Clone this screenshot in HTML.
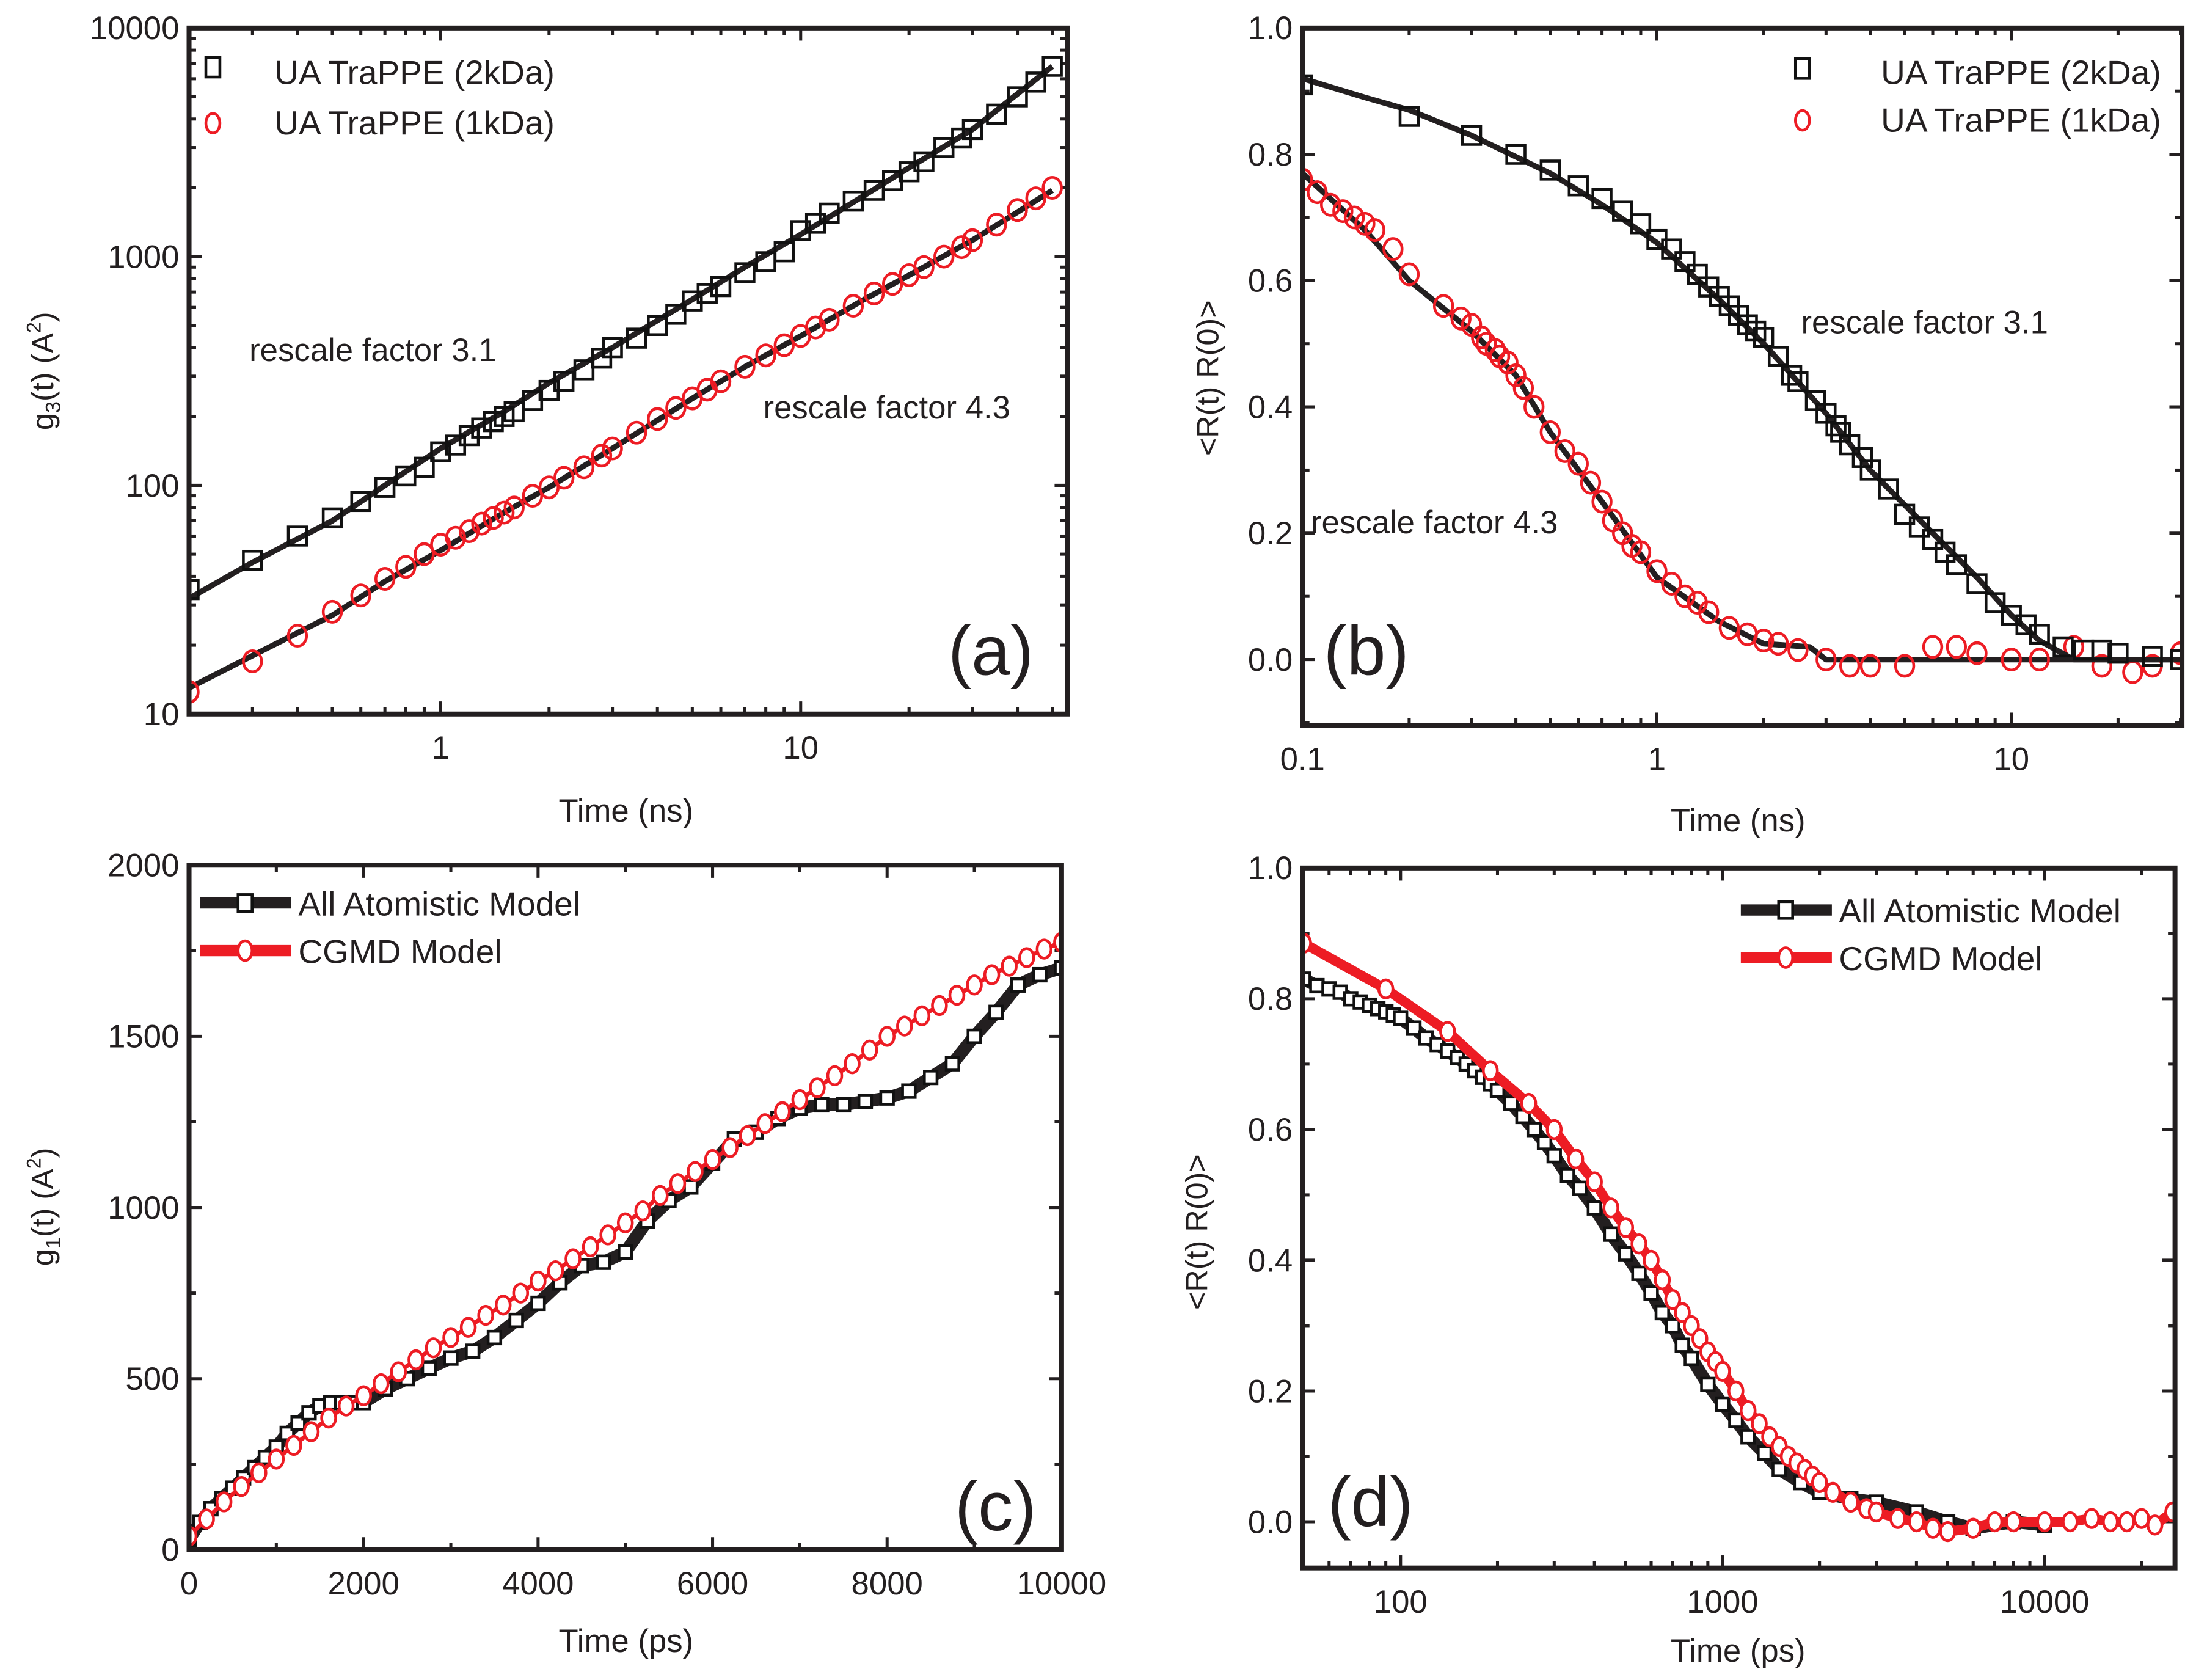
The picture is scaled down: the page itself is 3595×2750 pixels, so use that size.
<!DOCTYPE html>
<html><head><meta charset="utf-8"><style>
html,body{margin:0;padding:0;background:#fff;}
svg{display:block;font-family:"Liberation Sans",Arial,sans-serif;}
</style></head><body>
<svg id="fig" width="3595" height="2750" viewBox="0 0 1568 1200" preserveAspectRatio="none" xmlns="http://www.w3.org/2000/svg"></svg>
<script>
// ---------- Panel (a) data ----------
const aTimes2k = [0.2,0.3,0.4,0.5,0.6,0.7,0.8,0.9,1,1.1,1.2,1.3,1.4,1.5,1.6,1.8,2,2.2,2.5,2.8,3,3.5,4,4.5,5,5.5,6,7,8,9,10,11,12,14,16,18,20,22,25,28,30,35,40,45,50];
const aVals2k  = [35,47,60,72,85,98,110,120,140,150,165,178,190,200,210,235,260,285,320,360,400,440,500,560,640,690,740,850,950,1050,1300,1400,1550,1750,1950,2150,2350,2600,3000,3300,3600,4200,5000,5800,6800];
const aLine2kT = [0.2,0.3,0.5,0.7,1,1.5,2,3,5,7,10,15,20,30,50];
const aLine2kV = [32,46,70,100,145,210,280,400,650,900,1250,1850,2450,3600,6800];
const aTimes1k = [0.2,0.3,0.4,0.5,0.6,0.7,0.8,0.9,1,1.1,1.2,1.3,1.4,1.5,1.6,1.8,2,2.2,2.5,2.8,3,3.5,4,4.5,5,5.5,6,7,8,9,10,11,12,14,16,18,20,22,25,28,30,35,40,45,50];
const aVals1k  = [12.5,17,22,28,33,39,44,50,55,59,63,68,72,76,80,90,98,108,120,135,145,170,195,218,240,262,285,330,370,410,450,490,530,610,690,760,830,900,1000,1100,1180,1380,1600,1800,2000];
const aLine1kT = [0.2,0.3,0.5,0.7,1,1.5,2,3,5,7,10,15,20,30,50];
const aLine1kV = [13,18,27,38,52,76,98,145,240,330,450,650,830,1180,1950];
// ---------- Panel (b) data ----------
const bTimes2k = [0.1,0.2,0.3,0.4,0.5,0.6,0.7,0.8,0.9,1,1.1,1.2,1.3,1.4,1.5,1.6,1.7,1.8,1.9,2,2.2,2.4,2.5,2.8,3,3.2,3.3,3.5,3.8,4,4.5,5,5.5,6,6.5,7,8,9,10,11,12,14,16,18,20,25,30];
const bVals2k  = [0.91,0.86,0.83,0.80,0.775,0.75,0.73,0.71,0.69,0.665,0.65,0.63,0.61,0.59,0.575,0.56,0.545,0.53,0.52,0.51,0.48,0.45,0.44,0.41,0.39,0.37,0.36,0.34,0.32,0.30,0.27,0.23,0.21,0.19,0.17,0.15,0.12,0.09,0.07,0.055,0.04,0.02,0.015,0.015,0.01,0.005,0.0];
const bLine2kT = [0.1,0.15,0.2,0.3,0.5,0.7,1,1.5,2,3,4,6,8,10,12,15,30];
const bLine2kV = [0.92,0.89,0.87,0.83,0.77,0.72,0.66,0.57,0.50,0.39,0.30,0.20,0.13,0.07,0.03,0.0,0.0];
const bTimes1k = [0.1,0.11,0.12,0.13,0.14,0.15,0.16,0.18,0.2,0.25,0.28,0.3,0.32,0.33,0.35,0.36,0.38,0.4,0.42,0.45,0.5,0.55,0.6,0.65,0.7,0.75,0.8,0.85,0.9,1,1.1,1.2,1.3,1.4,1.6,1.8,2,2.2,2.5,3,3.5,4,5,6,7,8,10,12,15,18,22,25,30];
const bVals1k  = [0.76,0.74,0.72,0.71,0.70,0.69,0.68,0.65,0.61,0.56,0.54,0.53,0.51,0.50,0.49,0.48,0.47,0.45,0.43,0.40,0.36,0.33,0.31,0.28,0.25,0.22,0.20,0.18,0.17,0.14,0.12,0.10,0.09,0.075,0.05,0.04,0.03,0.025,0.015,0.0,-0.01,-0.01,-0.01,0.02,0.02,0.01,0.0,0.0,0.02,-0.01,-0.02,-0.01,0.01];
const bLine1kT = [0.1,0.15,0.2,0.3,0.4,0.5,0.7,1,1.5,2,2.7,3,30];
const bLine1kV = [0.77,0.68,0.60,0.52,0.45,0.36,0.25,0.13,0.06,0.025,0.02,0.0,0.0];
// ---------- Panel (c) data ----------
const cTimesAA = [0,125,250,375,500,625,750,875,1000,1125,1250,1375,1500,1625,1750,1875,2000,2250,2500,2750,3000,3250,3500,3750,4000,4250,4500,4750,5000,5250,5500,5750,6000,6250,6500,6750,7000,7250,7500,7750,8000,8250,8500,8750,9000,9250,9500,9750,10000];
const cValsAA  = [30,80,120,150,180,210,240,270,300,340,370,400,420,430,430,430,430,470,500,530,560,580,620,670,720,780,830,840,870,960,1020,1060,1130,1200,1220,1260,1290,1300,1300,1310,1320,1340,1380,1420,1500,1570,1650,1680,1700];
const cTimesCG = [0,200,400,600,800,1000,1200,1400,1600,1800,2000,2200,2400,2600,2800,3000,3200,3400,3600,3800,4000,4200,4400,4600,4800,5000,5200,5400,5600,5800,6000,6200,6400,6600,6800,7000,7200,7400,7600,7800,8000,8200,8400,8600,8800,9000,9200,9400,9600,9800,10000];
const cValsCG  = [40,90,140,185,225,265,305,345,385,420,450,485,520,555,590,620,650,685,715,750,785,815,850,885,920,955,990,1035,1070,1105,1140,1175,1210,1245,1280,1315,1350,1385,1420,1460,1500,1530,1560,1590,1620,1650,1680,1705,1730,1755,1775];
// ---------- Panel (d) data ----------
const dTimesAA = [50,55,60,65,70,75,80,85,90,95,100,110,120,130,140,150,160,170,180,190,200,220,240,260,280,300,330,360,400,450,500,550,600,650,700,750,800,900,1000,1100,1200,1350,1500,1750,2000,2500,3000,4000,5000,6000,8000,10000];
const dValsAA  = [0.83,0.82,0.815,0.81,0.80,0.795,0.79,0.785,0.78,0.775,0.77,0.755,0.74,0.73,0.72,0.71,0.70,0.69,0.68,0.67,0.66,0.64,0.62,0.60,0.58,0.56,0.53,0.51,0.48,0.44,0.41,0.38,0.35,0.32,0.30,0.27,0.25,0.21,0.18,0.155,0.13,0.105,0.08,0.06,0.045,0.035,0.03,0.015,0.0,-0.01,0.0,-0.005];
const dTimesCG = [50,90,140,190,250,300,350,400,450,500,550,600,650,700,750,800,850,900,950,1000,1100,1200,1300,1400,1500,1600,1700,1800,1900,2000,2200,2500,2800,3000,3500,4000,4500,5000,6000,7000,8000,10000,12000,14000,16000,18000,20000,22000,25000];
const dValsCG  = [0.885,0.815,0.75,0.69,0.64,0.60,0.555,0.52,0.48,0.45,0.425,0.40,0.37,0.34,0.32,0.30,0.28,0.26,0.245,0.23,0.20,0.17,0.15,0.13,0.115,0.10,0.09,0.08,0.07,0.06,0.045,0.03,0.02,0.015,0.005,0.0,-0.01,-0.015,-0.01,0.0,0.0,0.0,0.0,0.005,0.0,0.0,0.005,-0.005,0.015];

const NS="http://www.w3.org/2000/svg";
const svg=document.getElementById('fig');
function el(tag,attrs,parent){const e=document.createElementNS(NS,tag);for(const k in attrs)e.setAttribute(k,attrs[k]);(parent||svg).appendChild(e);return e;}
function mkScale(d0,d1,p0,p1,log){if(log){const a=Math.log10(d0),b=Math.log10(d1);return v=>p0+(Math.log10(v)-a)/(b-a)*(p1-p0);}return v=>p0+(v-d0)/(d1-d0)*(p1-p0);}

function panel(name,L,R,T,B,xd,yd,xlog,ylog){
  const g=el('g',{});
  
  
  return {g,L,R,T,B,sx:mkScale(xd[0],xd[1],L,R,xlog),sy:mkScale(yd[0],yd[1],B,T,ylog)};
}
function ticks(p,xMaj,xMin,yMaj,yMin,xLab,yLab){
  const g=el('g',{},p.g);
  
  
  const st={stroke:'#231f20','stroke-width':2.2};
  xMaj.forEach(v=>{const x=p.sx(v);el('line',{...st,x1:x,x2:x,y1:p.B,y2:p.B-9},g);el('line',{...st,x1:x,x2:x,y1:p.T,y2:p.T+9},g);});
  xMin.forEach(v=>{const x=p.sx(v);el('line',{...st,x1:x,x2:x,y1:p.B,y2:p.B-5},g);el('line',{...st,x1:x,x2:x,y1:p.T,y2:p.T+5},g);});
  yMaj.forEach(v=>{const y=p.sy(v);el('line',{...st,y1:y,y2:y,x1:p.L,x2:p.L+9},g);el('line',{...st,y1:y,y2:y,x1:p.R,x2:p.R-9},g);});
  yMin.forEach(v=>{const y=p.sy(v);el('line',{...st,y1:y,y2:y,x1:p.L,x2:p.L+5},g);el('line',{...st,y1:y,y2:y,x1:p.R,x2:p.R-5},g);});
  xLab.forEach((s,i)=>{const t=el('text',{x:p.sx(xMaj[i]),y:p.B+32,'font-size':23,'text-anchor':'middle',fill:'#231f20'},g);t.textContent=s;});
  yLab.forEach((s,i)=>{const t=el('text',{x:p.L-7,y:p.sy(yMaj[i])+8,'font-size':23,'text-anchor':'end',fill:'#231f20'},g);t.textContent=s;});
}
function frame(p){const r=el('rect',{x:p.L,y:p.T,width:p.R-p.L,height:p.B-p.T,fill:'none',stroke:'#231f20','stroke-width':3.5},p.g);}
function clip(p,id){const c=el('clipPath',{id},p.g);el('rect',{x:p.L,y:p.T,width:p.R-p.L,height:p.B-p.T},c);const g=el('g',{'clip-path':`url(#${id})`},p.g);return g;}
function line(p,g,xs,ys,color,w,name){const d=xs.map((x,i)=>(i?'L':'M')+p.sx(x).toFixed(1)+','+p.sy(ys[i]).toFixed(1)).join('');const e=el('path',{d,fill:'none',stroke:color,'stroke-width':w,'stroke-linejoin':'round'},g);}
function squares(p,g,xs,ys,fill,name,s){const gg=el('g',{},g);xs.forEach((x,i)=>{const r=el('rect',{x:p.sx(x)-s/2,y:p.sy(ys[i])-s/2,width:s,height:s,fill:fill,stroke:'#111','stroke-width':2},gg);});}
function circles(p,g,xs,ys,fill,name,rx,ry){const gg=el('g',{},g);xs.forEach((x,i)=>{const c=el('ellipse',{cx:p.sx(x),cy:p.sy(ys[i]),rx,ry,fill:fill,stroke:'#ed1c24','stroke-width':2},gg);});}
function text(parent,x,y,s,size,name,anchor){const t=el('text',{x,y,'font-size':size,fill:'#231f20','text-anchor':anchor||'start'},parent);t.textContent=s;return t;}
function ylabel(parent,x,y,html,name){const t=el('text',{x:0,y:0,'font-size':22,fill:'#231f20','text-anchor':'middle',transform:`translate(${x},${y}) rotate(-90)`},parent);t.innerHTML=html;}

function range(a,b,s){const r=[];for(let v=a;v<=b+1e-9;v+=s)r.push(+v.toFixed(6));return r;}
function logMinor(d0,d1){const r=[];for(let e=-2;e<=5;e++)for(let m=2;m<=9;m++){const v=m*Math.pow(10,e);if(v>=d0&&v<=d1)r.push(v);}return r;}

// ----- (a) -----
const A=panel('panel-a',135,762,20,510,[0.2,55],[10,10000],true,true);
ticks(A,[1,10],logMinor(0.2,55),[10,100,1000,10000],logMinor(10,10000),['1','10'],['10','100','1000','10000']);
let g=clip(A,'ca');
line(A,g,aLine1kT,aLine1kV,'#231f20',4,'fit-line-1kda');
circles(A,g,aTimes1k,aVals1k,'none','series-1kda',6.5,7.5);
line(A,g,aLine2kT,aLine2kV,'#231f20',4,'fit-line-2kda');
squares(A,g,aTimes2k,aVals2k,'none','series-2kda',13);
frame(A);
el('rect',{x:147,y:41,width:10,height:14,fill:'none',stroke:'#111','stroke-width':2},A.g);
el('ellipse',{cx:152,cy:88,rx:5,ry:7,fill:'none',stroke:'#ed1c24','stroke-width':2},A.g);
text(A.g,196,60,'UA TraPPE (2kDa)',24,'legend-entry-2kda');
text(A.g,196,96,'UA TraPPE (1kDa)',24,'legend-entry-1kda');
text(A.g,178,258,'rescale factor 3.1',23,'annotation-rescale-3-1');
text(A.g,545,299,'rescale factor 4.3',23,'annotation-rescale-4-3');
text(A.g,738,482,'(a)',50,'panel-label-a','end');
text(A.g,447,587,'Time (ns)',23,'x-axis-title-a','middle');
ylabel(A.g,38,265,'g<tspan font-size="15" dy="5">3</tspan><tspan dy="-5">(t) (A</tspan><tspan font-size="14" dy="-9">2</tspan><tspan dy="9">)</tspan>','y-axis-title-a');

// ----- (b) -----
const Bp=panel('panel-b',930,1558,20,518,[0.1,30.3],[-0.104,1.0],true,false);
ticks(Bp,[0.1,1,10],logMinor(0.1,30.3),range(0,1,0.2),[-0.1,0.1,0.3,0.5,0.7,0.9],['0.1','1','10'],['0.0','0.2','0.4','0.6','0.8','1.0']);
g=clip(Bp,'cb');
line(Bp,g,bLine1kT,bLine1kV,'#231f20',4,'fit-line-1kda');
circles(Bp,g,bTimes1k,bVals1k,'none','series-1kda',6.5,7.5);
line(Bp,g,bLine2kT,bLine2kV,'#231f20',4,'fit-line-2kda');
squares(Bp,g,bTimes2k,bVals2k,'none','series-2kda',13);
frame(Bp);
el('rect',{x:1282,y:42,width:10,height:14,fill:'none',stroke:'#111','stroke-width':2},Bp.g);
el('ellipse',{cx:1287,cy:86,rx:5,ry:7,fill:'none',stroke:'#ed1c24','stroke-width':2},Bp.g);
text(Bp.g,1543,60,'UA TraPPE (2kDa)',24,'legend-entry-2kda','end');
text(Bp.g,1543,94,'UA TraPPE (1kDa)',24,'legend-entry-1kda','end');
text(Bp.g,1286,238,'rescale factor 3.1',23,'annotation-rescale-3-1');
text(Bp.g,936,381,'rescale factor 4.3',23,'annotation-rescale-4-3');
text(Bp.g,945,482,'(b)',50,'panel-label-b');
text(Bp.g,1241,594,'Time (ns)',23,'x-axis-title-b','middle');
ylabel(Bp.g,870,270,'&lt;R(t) R(0)&gt;','y-axis-title-b');

// ----- (c) -----
const C=panel('panel-c',135,758,618,1107,[0,10000],[0,2000],false,false);
ticks(C,range(0,10000,2000),range(1000,9000,2000),range(0,2000,500),range(250,1750,500),['0','2000','4000','6000','8000','10000'],['0','500','1000','1500','2000']);
g=clip(C,'cc');
line(C,g,cTimesAA,cValsAA,'#231f20',9,'line-all-atomistic');
squares(C,g,cTimesAA,cValsAA,'#fff','series-all-atomistic',9);
line(C,g,cTimesCG,cValsCG,'#ed1c24',3,'line-cgmd');
circles(C,g,cTimesCG,cValsCG,'#fff','series-cgmd',5,6.5);
frame(C);
el('line',{x1:143,x2:208,y1:645,y2:645,stroke:'#231f20','stroke-width':8},C.g);
el('rect',{x:170,y:639,width:10,height:12,fill:'#fff',stroke:'#111','stroke-width':2},C.g);
el('line',{x1:143,x2:208,y1:679,y2:679,stroke:'#ed1c24','stroke-width':8},C.g);
el('ellipse',{cx:175,cy:679,rx:5,ry:7,fill:'#fff',stroke:'#ed1c24','stroke-width':2},C.g);
text(C.g,213,654,'All Atomistic Model',24,'legend-entry-all-atomistic');
text(C.g,213,688,'CGMD Model',24,'legend-entry-cgmd');
text(C.g,740,1093,'(c)',50,'panel-label-c','end');
text(C.g,447,1180,'Time (ps)',23,'x-axis-title-c','middle');
ylabel(C.g,38,862,'g<tspan font-size="15" dy="5">1</tspan><tspan dy="-5">(t) (A</tspan><tspan font-size="14" dy="-9">2</tspan><tspan dy="9">)</tspan>','y-axis-title-c');

// ----- (d) -----
const D=panel('panel-d',930,1553,620,1120,[49.6,25400],[-0.0707,1.0],true,false);
ticks(D,[100,1000,10000],logMinor(49.6,25400),range(0,1,0.2),[0.1,0.3,0.5,0.7,0.9],['100','1000','10000'],['0.0','0.2','0.4','0.6','0.8','1.0']);
g=clip(D,'cd');
line(D,g,dTimesAA,dValsAA,'#231f20',9,'line-all-atomistic');
squares(D,g,dTimesAA,dValsAA,'#fff','series-all-atomistic',9);
line(D,g,dTimesCG,dValsCG,'#ed1c24',7,'line-cgmd');
circles(D,g,dTimesCG,dValsCG,'#fff','series-cgmd',5,6.5);
frame(D);
el('line',{x1:1243,x2:1308,y1:650,y2:650,stroke:'#231f20','stroke-width':8},D.g);
el('rect',{x:1270,y:644,width:10,height:12,fill:'#fff',stroke:'#111','stroke-width':2},D.g);
el('line',{x1:1243,x2:1308,y1:684,y2:684,stroke:'#ed1c24','stroke-width':8},D.g);
el('ellipse',{cx:1275,cy:684,rx:5,ry:7,fill:'#fff',stroke:'#ed1c24','stroke-width':2},D.g);
text(D.g,1313,659,'All Atomistic Model',24,'legend-entry-all-atomistic');
text(D.g,1313,693,'CGMD Model',24,'legend-entry-cgmd');
text(D.g,948,1090,'(d)',50,'panel-label-d');
text(D.g,1241,1187,'Time (ps)',23,'x-axis-title-d','middle');
ylabel(D.g,862,880,'&lt;R(t) R(0)&gt;','y-axis-title-d');
</script>
</body></html>
